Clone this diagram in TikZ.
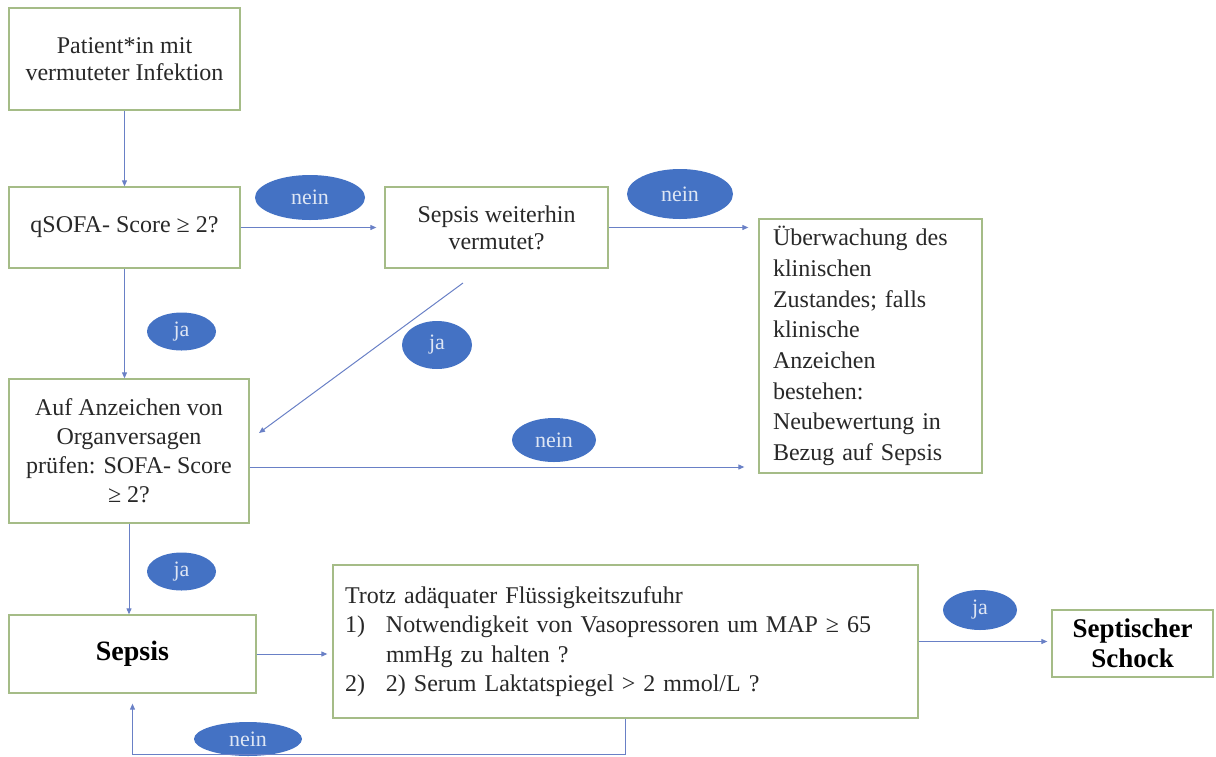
\documentclass[tikz,border=0pt]{standalone}
\usepackage{fontspec}
\setmainfont{Liberation Serif}
\usetikzlibrary{arrows.meta,shapes.geometric,calc}
\definecolor{boxline}{RGB}{165,188,135}
\definecolor{arrowc}{RGB}{105,128,198}
\definecolor{ellfill}{RGB}{68,114,196}
\definecolor{elltext}{RGB}{222,230,244}
\definecolor{txt}{RGB}{40,40,40}
\begin{document}
\begin{tikzpicture}[x=1pt,y=-1pt,
  box/.style={draw=boxline, line width=1.3pt, fill=white, inner sep=0pt, align=center, text=txt,
              font=\fontsize{24}{27}\selectfont},
  lbl/.style={ellipse, fill=ellfill, inner sep=0pt, text=elltext, font=\fontsize{22}{24}\selectfont},
  arr/.style={draw=arrowc, line width=1pt, -{Triangle[length=6pt,width=5pt]}}]
\useasboundingbox (0,0) rectangle (1216,756);

% boxes
\node[box, minimum width=231, minimum height=102] (p) at (124.5,59) {Patient*in mit\\vermuteter Infektion};
\node[box, minimum width=231, minimum height=81] (q) at (124.5,227.5) {qSOFA- Score ≥ 2?};
\node[box, minimum width=223, minimum height=81] (s3) at (496.5,227.5) {Sepsis weiterhin\\vermutet?};
\node[box, minimum width=223, minimum height=254, text width=195, align=left,
      font=\fontsize{24}{30.7}\selectfont] (ue) at (870.5,346)
  {Überwachung des\\klinischen\\Zustandes; falls\\klinische\\Anzeichen\\bestehen:\\Neubewertung in\\Bezug auf Sepsis};
\node[box, minimum width=240, minimum height=144, font=\fontsize{24}{29}\selectfont] (a) at (129,451)
  {Auf Anzeichen von\\Organversagen\\prüfen: SOFA- Score\\≥ 2?};
\node[box, minimum width=247, minimum height=78, font=\fontsize{28}{30}\selectfont\bfseries, text=black] (s) at (132.5,654) {Sepsis};
\node[box, minimum width=585, minimum height=153, text width=561, align=left,
      font=\fontsize{24}{29.3}\selectfont] (t) at (625.5,641.5)
  {Trotz adäquater Flüssigkeitszufuhr\\
   \makebox[41pt][l]{1)}Notwendigkeit von Vasopressoren um MAP ≥ 65\\
   \hspace*{41pt}mmHg zu halten ?\\
   \makebox[41pt][l]{2)}2) Serum Laktatspiegel > 2 mmol/L ?};
\node[box, minimum width=161, minimum height=67, font=\fontsize{27}{30}\selectfont\bfseries, text=black] (ss) at (1132.5,643.5) {Septischer\\Schock};

% labels
\node[lbl, minimum width=110, minimum height=45] (l1) at (310,197.5) {nein};
\node[lbl, minimum width=106, minimum height=50] (l2) at (680,194) {nein};
\node[lbl, minimum width=69, minimum height=38] (l3) at (181.5,331.5) {ja};
\node[lbl, minimum width=70, minimum height=48] (l4) at (437,345) {ja};
\node[lbl, minimum width=84, minimum height=44] (l5) at (554,440) {nein};
\node[lbl, minimum width=69, minimum height=38] (l6) at (181.5,571.5) {ja};
\node[lbl, minimum width=74, minimum height=40] (l7) at (980,610) {ja};
\node[lbl, minimum width=108, minimum height=34] (l8) at (248,739) {nein};

% connectors
\draw[arr] (p.south) -- (q.north);
\draw[arr, shorten >=8] (q.east) -- (s3.west);
\draw[arr, shorten >=10] (s3.east) -- (s3.east -| ue.west);
\draw[arr] (q.south) -- (q.south |- a.north);
\coordinate (d1) at (463,283);
\coordinate (d2) at (259,433);
\draw[arr] (d1) -- (d2);
\coordinate (a2) at ($(a.east)+(0,16)$);
\draw[arr, shorten >=14] (a2) -- (a2 -| ue.west);
\draw[arr] (a.south) -- (a.south |- s.north);
\draw[arr, shorten >=5] (s.east) -- (s.east -| t.west);
\draw[arr, shorten >=4] (t.east) -- (t.east -| ss.west);
\draw[arr, shorten >=10] (t.south) -- ++(0,36) -| (s.south);
\end{tikzpicture}
\end{document}
